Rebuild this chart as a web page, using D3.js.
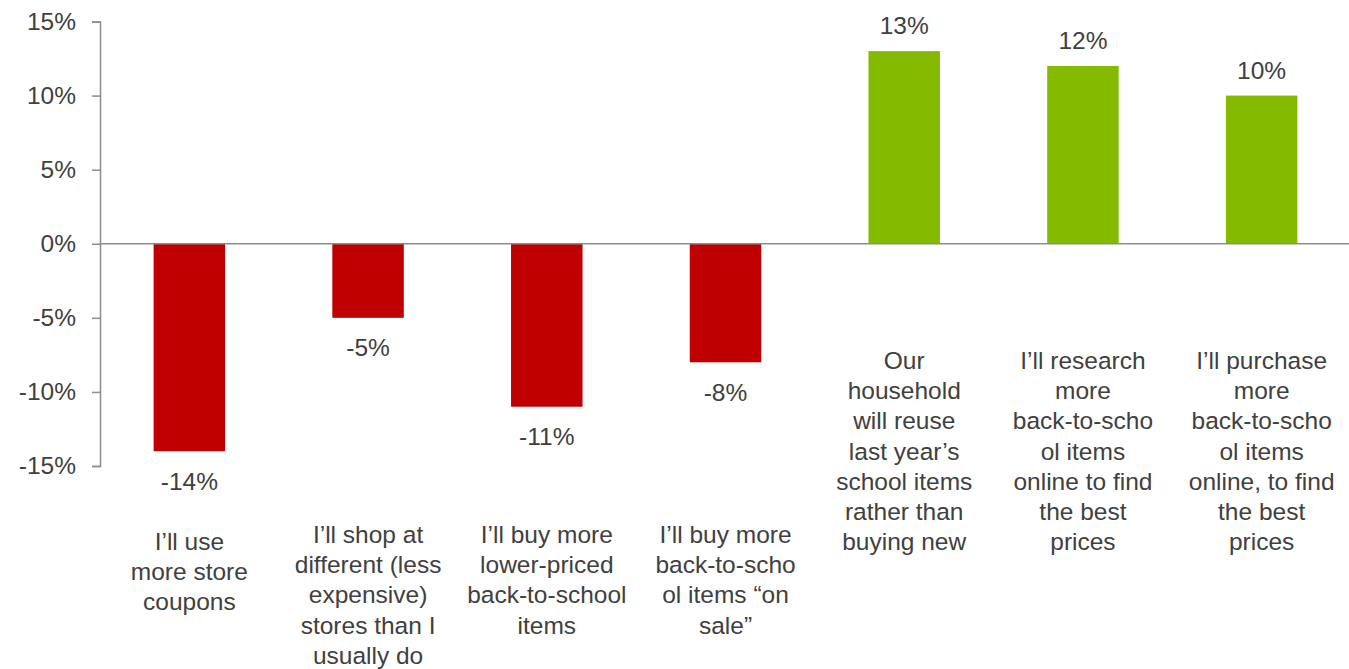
<!DOCTYPE html>
<html>
<head>
<meta charset="utf-8">
<script src="https://cdn.jsdelivr.net/npm/d3@7/dist/d3.min.js"></script>
<style>
  html, body { margin: 0; padding: 0; background: #ffffff; }
  svg { display: block; }
  text { font-family: "Liberation Sans", Arial, sans-serif; fill: #404040; }
</style>
</head>
<body>
<svg id="chart" width="1349" height="669"></svg>
<script>
// Net change in planned back-to-school shopping behaviours
const categories = [
  "I\u2019ll use\nmore store\ncoupons",
  "I\u2019ll shop at\ndifferent (less\nexpensive)\nstores than I\nusually do",
  "I\u2019ll buy more\nlower-priced\nback-to-school\nitems",
  "I\u2019ll buy more\nback-to-scho\nol items \u201con\nsale\u201d",
  "Our\nhousehold\nwill reuse\nlast year\u2019s\nschool items\nrather than\nbuying new",
  "I\u2019ll research\nmore\nback-to-scho\nol items\nonline to find\nthe best\nprices",
  "I\u2019ll purchase\nmore\nback-to-scho\nol items\nonline, to find\nthe best\nprices"
];
const values = [-14, -5, -11, -8, 13, 12, 10];
const yTicks = [-15, -10, -5, 0, 5, 10, 15];

const svg = d3.select("#chart");
const width = 1349;
const fontSize = 24.5;
const lineHeight = 30.2;

const x = d3.scaleBand()
  .domain(categories)
  .range([100, 1351])
  .paddingInner(0.6)
  .paddingOuter(0.3);

const y = d3.scaleLinear()
  .domain([-15, 15])
  .range([466, 21.5]);

// Bars
svg.append("g")
  .selectAll("rect")
  .data(values)
  .join("rect")
  .attr("x", (d, i) => x(categories[i]))
  .attr("width", x.bandwidth())
  .attr("y", d => y(Math.max(0, d)))
  .attr("height", d => Math.abs(y(d) - y(0)))
  .attr("fill", d => d < 0 ? "#C00000" : "#84BB00");

// Zero baseline across the plot
svg.append("line")
  .attr("x1", 100).attr("x2", width)
  .attr("y1", y(0)).attr("y2", y(0))
  .attr("stroke", "#8c8c8c").attr("stroke-width", 1.5);

// Y axis
const yAxis = svg.append("g")
  .attr("transform", "translate(100,0)")
  .call(d3.axisLeft(y)
    .tickValues(yTicks)
    .tickFormat(d => d + "%")
    .tickSize(8)
    .tickPadding(16));
yAxis.select(".domain").attr("stroke", "#8c8c8c").attr("stroke-width", 1.5);
yAxis.selectAll(".tick line").attr("stroke", "#8c8c8c").attr("stroke-width", 1.5);
yAxis.selectAll(".tick text")
  .attr("font-size", fontSize)
  .attr("font-family", "Liberation Sans, Arial, sans-serif")
  .attr("fill", "#404040");

// Value labels
const valueBaseline = d => d < 0 ? y(d) + 38.5 : y(d) - 17;
svg.append("g")
  .selectAll("text")
  .data(values)
  .join("text")
  .attr("x", (d, i) => x(categories[i]) + x.bandwidth() / 2)
  .attr("y", valueBaseline)
  .attr("text-anchor", "middle")
  .attr("font-size", fontSize)
  .text(d => d + "%");

// Category labels: below the plot for negative bars, under the axis for positive ones
const labelTop = d => d < 0 ? Math.max(543, valueBaseline(d) + 60) : 369;
const labels = svg.append("g")
  .selectAll("text")
  .data(categories)
  .join("text")
  .attr("text-anchor", "middle")
  .attr("font-size", fontSize)
  .attr("transform", (c, i) => `translate(${x(c) + x.bandwidth() / 2},${labelTop(values[i])})`);
labels.each(function(c) {
  d3.select(this).selectAll("tspan")
    .data(c.split("\n"))
    .join("tspan")
    .attr("x", 0)
    .attr("y", (l, j) => j * lineHeight)
    .text(l => l);
});
</script>
</body>
</html>
